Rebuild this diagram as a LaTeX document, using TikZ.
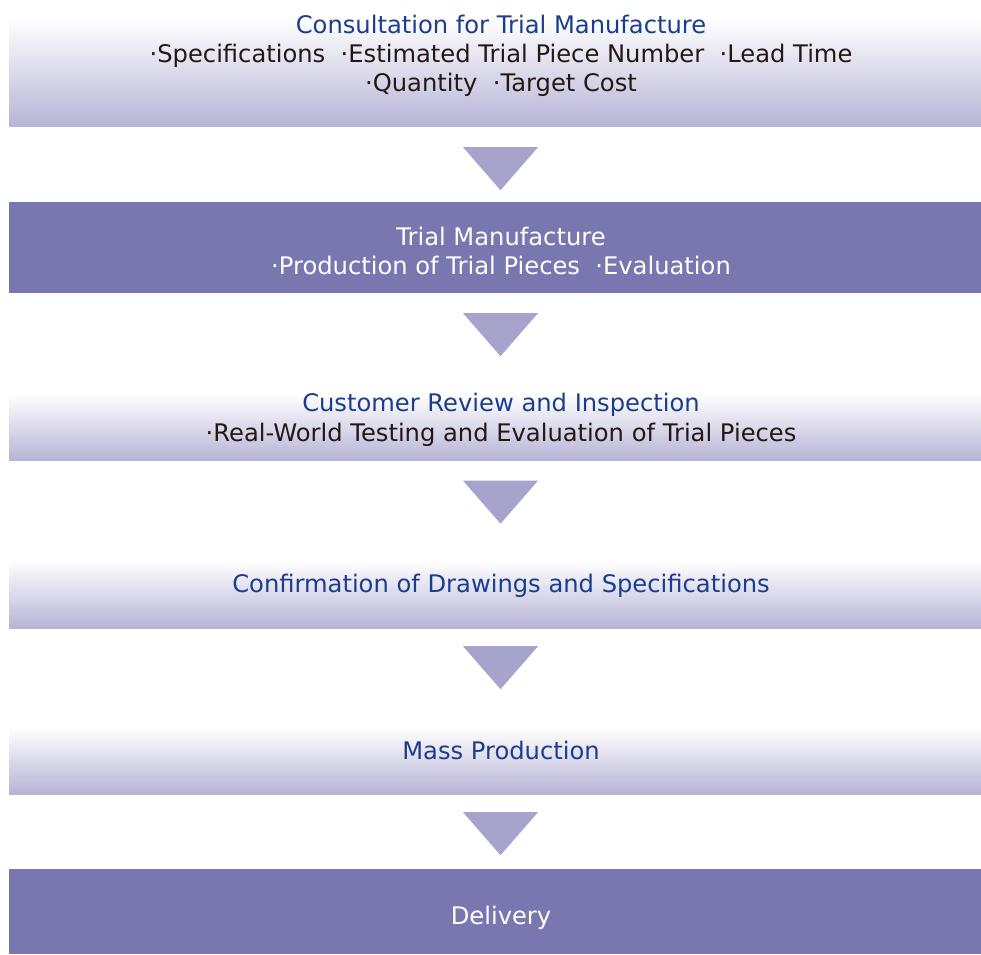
\documentclass[tikz,border=0pt]{standalone}
\usepackage{fontspec}
\setmainfont{DejaVu Sans}
\usetikzlibrary{calc}
\definecolor{titleblue}{HTML}{1C3C8E}
\definecolor{bodytext}{HTML}{231815}
\definecolor{boxdark}{HTML}{7977B0}
\definecolor{boxlight}{HTML}{B7B4D6}
\definecolor{arrowc}{HTML}{A6A3CC}
\tikzset{
  x=1pt,y=1pt,
  lightbox/.style={rectangle, inner sep=0pt, minimum width=972pt, top color=white, bottom color=boxlight, draw=none},
  darkbox/.style={rectangle, inner sep=0pt, minimum width=972pt, fill=boxdark, draw=none},
  ttl/.style={font=\fontsize{24.2}{29}\selectfont, text=titleblue, inner sep=0pt, anchor=base},
  ttlw/.style={font=\fontsize{24.2}{29}\selectfont, text=white, inner sep=0pt, anchor=base},
  body/.style={font=\fontsize{24.2}{29}\selectfont, text=bodytext, inner sep=0pt, anchor=base},
  arrowtri/.style={fill=arrowc, draw=none}
}
\begin{document}
\begin{tikzpicture}
\useasboundingbox (0,0) rectangle (981,954);
% boxes (y measured from top: y_tikz = 954 - y)
\node[lightbox, minimum height=109pt] (b1) at (495,{954-72.5}) {};
\node[darkbox, minimum height=91pt] (b2) at (495,{954-247.5}) {};
\node[lightbox, minimum height=67pt] (b3) at (495,{954-427}) {};
\node[lightbox, minimum height=68pt] (b4) at (495,{954-594}) {};
\node[lightbox, minimum height=67pt] (b5) at (495,{954-760.5}) {};
\node[darkbox, minimum height=85pt] (b6) at (495,{954-911.5}) {};
% texts
\node[ttl] (t1) at (501,{954-33.5}) {Consultation for Trial Manufacture};
\node[body] (t1a) at (501,{954-62.5}) {·Specifications\ \ ·Estimated Trial Piece Number\ \ ·Lead Time};
\node[body] (t1b) at (501,{954-91.5}) {·Quantity\ \ ·Target Cost};
\node[ttlw] (t2) at (501,{954-245.5}) {Trial Manufacture};
\node[ttlw] (t2a) at (501,{954-274.5}) {·Production of Trial Pieces\ \ ·Evaluation};
\node[ttl] (t3) at (501,{954-411.5}) {Customer Review and Inspection};
\node[body] (t3a) at (501,{954-441.5}) {·Real-World Testing and Evaluation of Trial Pieces};
\node[ttl] (t4) at (501,{954-592.5}) {Confirmation of Drawings and Specifications};
\node[ttl] (t5) at (501,{954-759.5}) {Mass Production};
\node[ttlw] (t6) at (501,{954-924.5}) {Delivery};
% arrows
\fill[arrowtri] ($(b1.south)+(5.5,-20)$) -- ++(-37.5,0) -- ++(37.5,-43) -- ++(37.5,43) -- cycle;
\fill[arrowtri] ($(b2.south)+(5.5,-20)$) -- ++(-37.5,0) -- ++(37.5,-43) -- ++(37.5,43) -- cycle;
\fill[arrowtri] ($(b3.south)+(5.5,-20)$) -- ++(-37.5,0) -- ++(37.5,-43) -- ++(37.5,43) -- cycle;
\fill[arrowtri] ($(b4.south)+(5.5,-18)$) -- ++(-37.5,0) -- ++(37.5,-43) -- ++(37.5,43) -- cycle;
\fill[arrowtri] ($(b5.south)+(5.5,-18)$) -- ++(-37.5,0) -- ++(37.5,-43) -- ++(37.5,43) -- cycle;
\end{tikzpicture}
\end{document}
